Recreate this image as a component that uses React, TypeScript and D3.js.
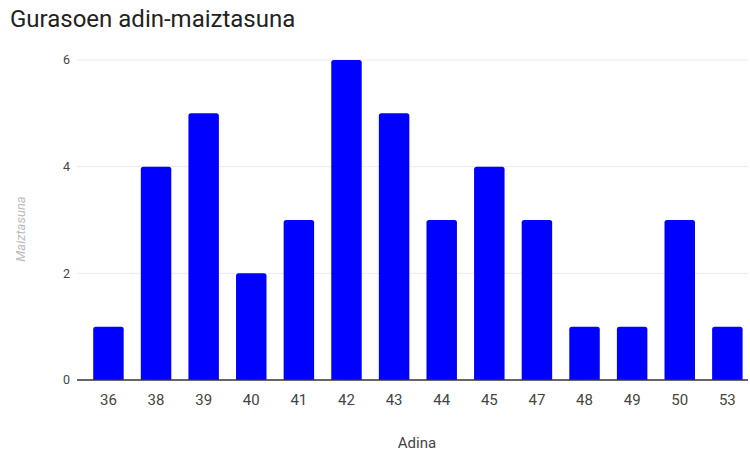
import { useEffect, useRef } from 'react'
import * as d3 from 'd3'

const ages = ['36', '38', '39', '40', '41', '42', '43', '44', '45', '47', '48', '49', '50', '53']
const counts = [1, 4, 5, 2, 3, 6, 5, 3, 4, 3, 1, 1, 3, 1]
const yTicks = [0, 2, 4, 6]

const W = 750
const H = 452

export default function App() {
  const ref = useRef<SVGSVGElement>(null)

  useEffect(() => {
    if (!ref.current) return
    const svg = d3.select(ref.current)
    svg.selectAll('*').remove()

    const left = 77
    const right = 748
    const top = 60
    const bottom = 380

    const x = d3
      .scaleBand<string>()
      .domain(ages)
      .range([left, right])
      .paddingInner(0.36)
      .paddingOuter(0.227)
      .align(0.75)

    const y = d3.scaleLinear().domain([0, 6]).range([bottom, top])

    // Title
    svg
      .append('text')
      .attr('x', 10)
      .attr('y', 27)
      .style('font', '24px Roboto')
      .style('fill', '#222')
      .text('Gurasoen adin-maiztasuna')

    // Gridlines
    svg
      .append('g')
      .selectAll('line')
      .data(yTicks.filter((d) => d > 0))
      .enter()
      .append('line')
      .attr('x1', left)
      .attr('x2', right)
      .attr('y1', (d) => y(d))
      .attr('y2', (d) => y(d))
      .attr('stroke', '#ebebeb')
      .attr('stroke-width', 1)

    // Y tick labels
    svg
      .append('g')
      .selectAll('text')
      .data(yTicks)
      .enter()
      .append('text')
      .attr('x', 70)
      .attr('y', (d) => y(d))
      .attr('dy', '0.35em')
      .attr('text-anchor', 'end')
      .style('font', '12.5px Roboto')
      .style('fill', '#444')
      .text((d) => d)

    // Bars with rounded tops
    const r = 2.5
    svg
      .append('g')
      .selectAll('path')
      .data(counts)
      .enter()
      .append('path')
      .attr('d', (d, i) => {
        const x0 = x(ages[i])!
        const w = x.bandwidth()
        const y0 = y(d)
        const path = d3.path()
        path.moveTo(x0, bottom)
        path.lineTo(x0, y0 + r)
        path.quadraticCurveTo(x0, y0, x0 + r, y0)
        path.lineTo(x0 + w - r, y0)
        path.quadraticCurveTo(x0 + w, y0, x0 + w, y0 + r)
        path.lineTo(x0 + w, bottom)
        path.closePath()
        return path.toString()
      })
      .style('fill', '#0000ff')

    // Baseline
    svg
      .append('line')
      .attr('x1', left)
      .attr('x2', right)
      .attr('y1', bottom)
      .attr('y2', bottom)
      .attr('stroke', '#333')
      .attr('stroke-width', 1.5)

    // X tick labels
    svg
      .append('g')
      .selectAll('text')
      .data(ages)
      .enter()
      .append('text')
      .attr('x', (d) => x(d)! + x.bandwidth() / 2)
      .attr('y', 405)
      .attr('text-anchor', 'middle')
      .style('font', '15px Roboto')
      .style('fill', '#444')
      .text((d) => d)

    // X axis label
    svg
      .append('text')
      .attr('x', 417)
      .attr('y', 448)
      .attr('text-anchor', 'middle')
      .style('font', '15px Roboto')
      .style('fill', '#444')
      .text('Adina')

    // Y axis label
    svg
      .append('text')
      .attr('transform', `translate(25, 229) rotate(-90)`)
      .attr('text-anchor', 'middle')
      .style('font', 'italic 13px Roboto')
      .style('fill', '#bbb')
      .text('Maiztasuna')
  }, [])

  return (
    <svg ref={ref} width={W} height={H} style={{ position: 'absolute', left: 0, top: 0, background: '#fff' }} />
  )
}
